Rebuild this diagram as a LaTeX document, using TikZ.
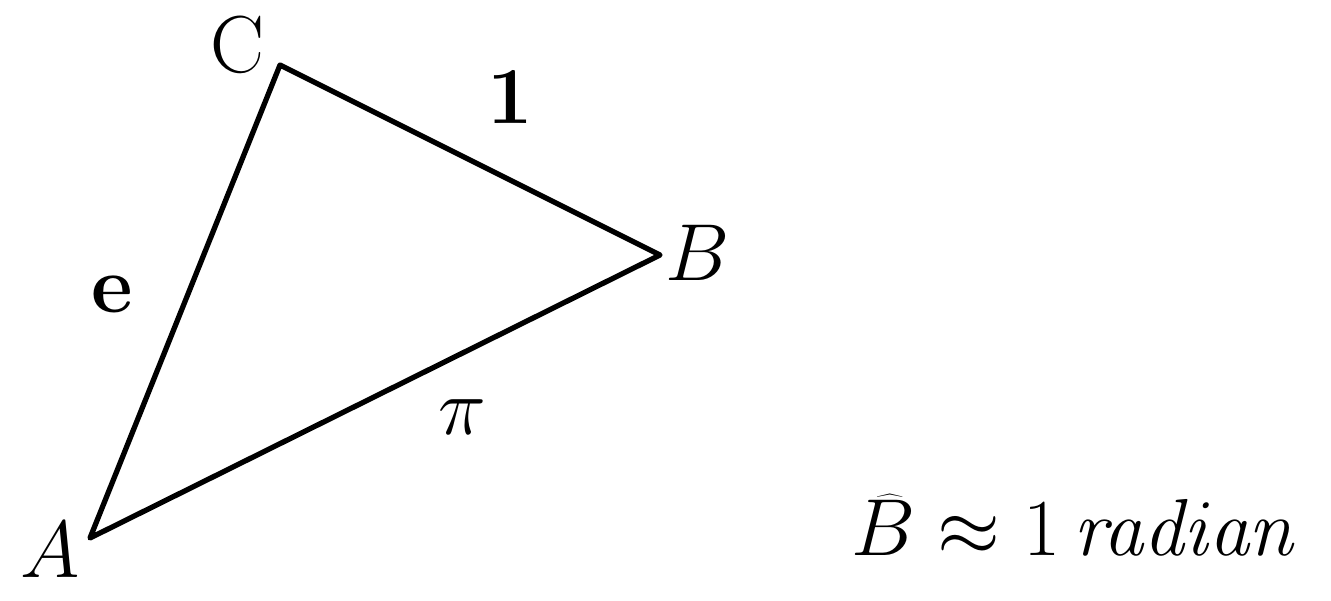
\RequirePackage{fix-cm}
\documentclass[tikz,border=0pt]{standalone}
\begin{document}
\begin{tikzpicture}[x=1cm,y=1cm,font=\fontsize{46}{55}\selectfont,
  lbl/.style={inner sep=0pt}]
\useasboundingbox (0,0) rectangle (26.62,12);
\coordinate (A) at (1.8,1.24);
\coordinate (C) at (5.6,10.7);
\coordinate (B) at (13.2,6.9);
\draw[line width=3pt,line join=round] (A) -- (C) -- (B) -- cycle;
\node[lbl] (lC) at (4.75,11.1) {$\mathrm{C}$};
\node[lbl] (lB) at (13.95,6.95) {$B$};
\node[lbl] (lA) at (1.0,1.0) {$A$};
\node[lbl] (l1) at (10.2,10.05) {$\mathbf{1}$};
\node[lbl] (le) at (2.25,6.1) {$\mathbf{e}$};
\node[lbl] (lpi) at (9.25,3.65) {$\pi$};
\node[lbl] (rad) at (21.5,1.5) {$\widehat{B}\approx 1\,\mathit{radian}$};
\end{tikzpicture}
\end{document}
